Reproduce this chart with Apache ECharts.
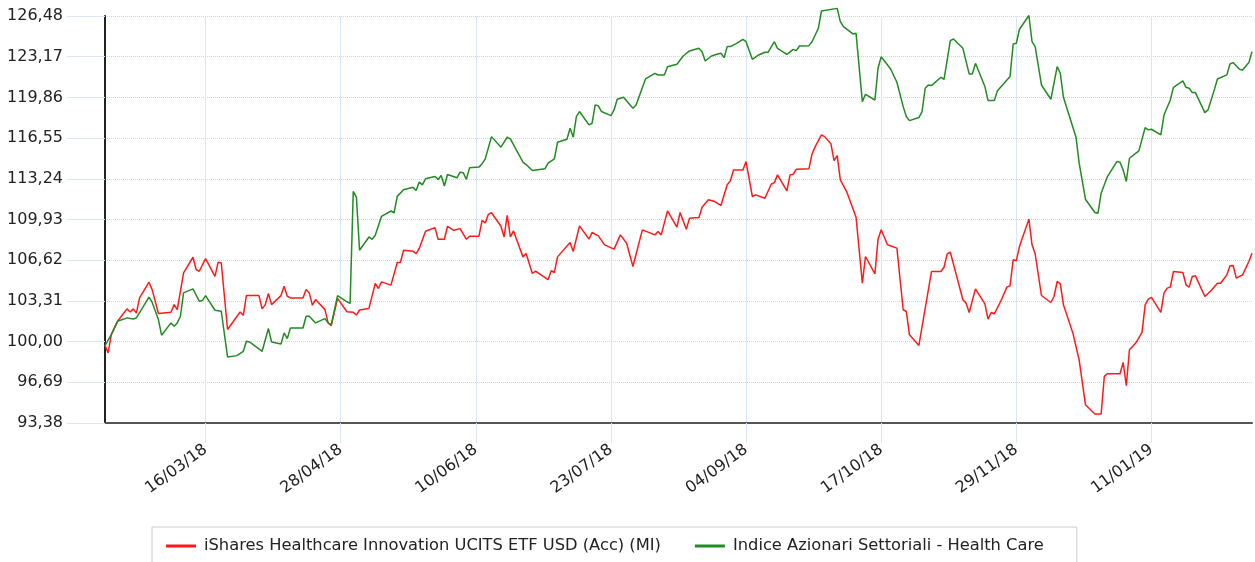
<!DOCTYPE html>
<html>
<head>
    <meta charset="UTF-8">
    <title>Healthcare</title>
    <style>
        html, body {
            margin: 0;
            padding: 0;
            background: #fff;
        }

        #chart {
            width: 1255px;
            height: 562px;
        }
    </style>
    <script src="https://cdn.jsdelivr.net/npm/echarts@6/dist/echarts.min.js"></script>
</head>
<body>
<div id="chart"></div>
<script>
    // calendar days counted from 12/02/18, one category per day
    var startDate = Date.UTC(2018, 1, 12);
    var dayCount = 366;
    var firstTick = 32;   // 16/03/18
    var tickStep = 43;

    var yMin = 93.38;
    var yMax = 126.48;
    var yStep = 3.31;

    var etfName = 'iShares Healthcare Innovation UCITS ETF USD (Acc) (MI)';
    var idxName = 'Indice Azionari Settoriali - Health Care';

    var etfDays = [0, 1, 2, 4, 7, 8, 9, 10, 11, 14, 15, 17, 21, 22, 23, 25, 28, 29, 30, 32, 35, 36, 37, 39, 43, 44, 45, 49, 50, 51,
        52, 53, 56, 57, 58, 59, 63, 64, 65, 66, 67, 70, 71, 72, 74, 77, 79, 80, 81, 84, 86, 87, 88, 91, 93, 94, 95, 98, 99, 100,
        102, 105, 106, 108, 109, 111, 113, 115, 116, 119, 120, 121, 122, 123, 126, 127, 128, 129, 130, 133, 134, 136, 137, 141, 142, 143, 144, 148, 149, 151,
        154, 155, 157, 159, 162, 164, 166, 168, 171, 175, 176, 177, 179, 182, 183, 185, 186, 189, 190, 192, 194, 196, 198, 199, 200, 203, 204, 206, 207, 210,
        212, 213, 214, 217, 218, 219, 220, 224, 225, 226, 228, 229, 231, 232, 233, 234, 236, 239, 241, 242, 245, 246, 247, 249, 252, 254, 255, 256, 259, 263,
        266, 267, 268, 269, 273, 274, 275, 277, 280, 281, 282, 283, 285, 287, 288, 289, 290, 291, 294, 295, 296, 298, 301, 302, 303, 304, 305, 308, 310, 312,
        315, 317, 318, 319, 323, 324, 325, 326, 328, 330, 331, 332, 333, 336, 337, 338, 339, 340, 343, 344, 345, 346, 347, 350, 352, 354, 355, 357, 358, 359,
        360, 362, 364, 365];
    var etfValues = [99.70, 99.08, 100.57, 101.65, 102.66, 102.41, 102.66, 102.33, 103.55, 104.83, 104.23, 102.28, 102.39, 103.01, 102.60, 105.59, 106.86, 105.86, 105.72, 106.75, 105.31, 106.46, 106.40, 100.98, 102.41, 102.14, 103.74, 103.74, 102.66, 103.01,
        103.91, 103.01, 103.74, 104.50, 103.69, 103.55, 103.55, 104.23, 103.96, 102.96, 103.42, 102.60, 101.52, 101.30, 103.51, 102.43, 102.38, 102.16, 102.57, 102.70, 104.73, 104.32, 104.86, 104.59, 106.43, 106.43, 107.43, 107.35, 107.16, 107.57,
        108.97, 109.27, 108.32, 108.32, 109.38, 109.05, 109.19, 108.32, 108.57, 108.57, 109.86, 109.65, 110.35, 110.48, 109.38, 108.51, 110.27, 108.51, 109.00, 106.89, 107.16, 105.54, 105.73, 105.05, 105.76, 105.62, 106.89, 108.06, 107.33, 109.41,
        108.33, 108.87, 108.60, 107.87, 107.52, 108.68, 108.00, 106.11, 109.09, 108.68, 108.95, 108.68, 110.63, 109.31, 110.50, 109.14, 110.04, 110.09, 110.93, 111.53, 111.39, 111.07, 112.75, 113.07, 113.96, 113.96, 114.64, 111.80, 111.93, 111.66,
        112.80, 112.93, 113.56, 112.26, 113.56, 113.61, 114.02, 114.05, 115.26, 115.86, 116.81, 116.67, 116.08, 114.72, 115.13, 113.15, 112.20, 110.12, 104.75, 106.92, 105.51, 108.33, 109.09, 107.87, 107.60, 102.59, 102.45, 100.55, 99.69, 105.70,
        105.70, 106.05, 107.14, 107.27, 103.40, 103.13, 102.37, 104.29, 103.07, 101.83, 102.37, 102.26, 103.26, 104.43, 104.54, 106.65, 106.57, 107.73, 109.96, 107.87, 107.14, 103.75, 103.18, 103.67, 104.89, 104.70, 102.99, 100.69, 98.50, 94.87,
        94.11, 94.11, 97.17, 97.39, 97.39, 98.31, 96.41, 99.34, 99.88, 100.75, 102.99, 103.45, 103.59, 102.37, 103.94, 104.35, 104.43, 105.70, 105.62, 104.62, 104.43, 105.30, 105.35, 103.67, 104.16, 104.75, 104.75, 105.43, 106.16, 106.19,
        105.16, 105.43, 106.51, 107.19];

    var idxDays = [0, 2, 4, 7, 9, 10, 14, 15, 17, 18, 21, 22, 23, 24, 25, 28, 30, 31, 32, 35, 37, 39, 42, 44, 45, 46, 50, 52, 53, 56,
        57, 58, 59, 63, 64, 65, 67, 70, 71, 72, 74, 77, 78, 79, 80, 81, 84, 85, 86, 88, 91, 92, 93, 95, 98, 99, 100, 101, 102, 105,
        106, 107, 108, 109, 112, 113, 114, 115, 116, 119, 120, 121, 123, 126, 128, 129, 133, 134, 136, 140, 141, 143, 144, 147, 148, 149, 150, 151, 154, 155,
        156, 157, 158, 161, 162, 163, 165, 168, 169, 172, 175, 176, 178, 179, 182, 184, 186, 189, 190, 191, 193, 195, 196, 197, 198, 199, 201, 203, 204, 206,
        208, 210, 211, 213, 214, 217, 219, 220, 221, 224, 225, 227, 228, 233, 234, 235, 238, 239, 241, 242, 245, 246, 247, 250, 252, 254, 255, 256, 259, 260,
        261, 262, 263, 266, 267, 269, 270, 273, 275, 276, 277, 280, 281, 283, 284, 288, 289, 290, 291, 294, 295, 296, 298, 301, 303, 304, 305, 309, 310, 312,
        315, 316, 317, 319, 322, 323, 324, 325, 326, 329, 331, 332, 333, 336, 337, 339, 340, 343, 344, 345, 346, 347, 350, 351, 353, 354, 357, 358, 359, 361,
        362, 364, 365];
    var idxValues = [99.67, 100.57, 101.65, 101.93, 101.84, 101.93, 103.61, 103.20, 101.79, 100.52, 101.52, 101.25, 101.52, 102.06, 103.96, 104.29, 103.28, 103.34, 103.74, 102.55, 102.47, 98.75, 98.86, 99.21, 100.03, 99.97, 99.21, 101.06, 99.97, 99.81,
        100.71, 100.24, 101.11, 101.11, 102.06, 102.06, 101.52, 101.87, 101.52, 101.38, 103.73, 103.24, 103.11, 112.21, 111.75, 107.43, 108.51, 108.32, 108.65, 110.19, 110.62, 110.48, 111.81, 112.35, 112.56, 112.29, 112.97, 112.75, 113.24, 113.43,
        113.19, 113.51, 112.65, 113.59, 113.32, 113.78, 113.73, 113.19, 114.13, 114.19, 114.46, 114.86, 116.67, 115.81, 116.62, 116.48, 114.59, 114.40, 113.92, 114.05, 114.51, 114.86, 116.21, 116.46, 117.35, 116.62, 118.30, 118.71, 117.62, 117.76,
        119.25, 119.17, 118.71, 118.38, 118.84, 119.71, 119.87, 118.98, 119.25, 121.36, 121.82, 121.68, 121.68, 122.36, 122.56, 123.23, 123.64, 123.85, 123.58, 122.82, 123.23, 123.39, 123.45, 123.09, 123.99, 123.99, 124.26, 124.58, 124.39, 122.96,
        123.31, 123.53, 123.53, 124.39, 123.85, 123.36, 123.77, 123.66, 124.04, 124.07, 124.39, 125.48, 126.89, 127.10, 126.02, 125.61, 125.02, 125.07, 119.52, 120.11, 119.65, 122.23, 123.17, 122.17, 121.09, 119.11, 118.30, 117.97, 118.22, 118.71,
        120.60, 120.87, 120.82, 121.50, 121.33, 124.48, 124.61, 123.85, 121.77, 121.77, 122.63, 120.74, 119.60, 119.60, 120.41, 121.55, 124.20, 124.26, 125.40, 126.52, 124.39, 123.99, 120.87, 119.71, 122.36, 121.82, 119.87, 116.62, 114.51, 111.58,
        110.50, 110.44, 112.07, 113.42, 114.64, 114.59, 113.96, 113.02, 114.91, 115.51, 117.40, 117.22, 117.27, 116.81, 118.43, 119.65, 120.68, 121.20, 120.68, 120.60, 120.25, 120.25, 118.62, 118.84, 120.47, 121.36, 121.69, 122.58, 122.69, 122.15,
        122.09, 122.69, 123.58];

    function pad(n) {
        return n < 10 ? '0' + n : '' + n;
    }

    var dates = [];
    for (var i = 0; i < dayCount; i++) {
        var d = new Date(startDate + i * 86400000);
        dates.push(pad(d.getUTCDate()) + '/' + pad(d.getUTCMonth() + 1) + '/' + pad(d.getUTCFullYear() % 100));
    }

    function pairs(days, values) {
        return days.map(function (d, k) {
            return [d, values[k]];
        });
    }

    function isTick(index) {
        return index >= firstTick && (index - firstTick) % tickStep === 0;
    }

    var gridBlue = '#d8e6f6';
    var fontName = 'DejaVu Sans';

    var chart = echarts.init(document.getElementById('chart'), null, {renderer: 'canvas'});
    chart.setOption({
        animation: false,
        backgroundColor: '#ffffff',
        grid: {left: 105, right: 3, top: 16, bottom: 139, containLabel: false},
        legend: {
            left: 152,
            top: 527,
            padding: [11, 33, 11, 14],
            itemGap: 34,
            itemWidth: 30,
            itemHeight: 3,
            icon: 'rect',
            borderColor: '#cccccc',
            borderWidth: 1,
            backgroundColor: '#ffffff',
            textStyle: {fontFamily: fontName, fontSize: 16.3, color: '#222', padding: [0, 0, 0, 3]},
            data: [etfName, idxName]
        },
        xAxis: {
            type: 'category',
            data: dates,
            boundaryGap: false,
            axisLine: {lineStyle: {color: '#555', width: 2}},
            axisTick: {show: true, length: 20, interval: isTick, lineStyle: {color: gridBlue}},
            axisLabel: {
                interval: isTick,
                rotate: 36,
                margin: 25,
                fontFamily: fontName,
                fontSize: 16,
                color: '#222'
            },
            splitLine: {show: true, interval: isTick, lineStyle: {color: gridBlue, width: 1}}
        },
        yAxis: {
            type: 'value',
            min: yMin,
            max: yMax,
            interval: yStep,
            axisLine: {show: true, lineStyle: {color: '#222', width: 2}},
            axisTick: {show: true, length: 38, lineStyle: {color: gridBlue}},
            axisLabel: {
                margin: 42,
                fontFamily: fontName,
                fontSize: 16,
                color: '#222',
                formatter: function (v) {
                    return v.toFixed(2).replace('.', ',');
                }
            },
            splitLine: {show: true, lineStyle: {color: '#c4d8f0', type: 'dotted', width: 1}}
        },
        series: [
            {
                name: etfName,
                type: 'line',
                data: pairs(etfDays, etfValues),
                showSymbol: false,
                clip: false,
                color: '#ff1a1a',
                lineStyle: {width: 1.5, color: '#ff1a1a'}
            },
            {
                name: idxName,
                type: 'line',
                data: pairs(idxDays, idxValues),
                showSymbol: false,
                clip: false,
                color: '#228b22',
                lineStyle: {width: 1.5, color: '#228b22'}
            }
        ]
    });
</script>
</body>
</html>
